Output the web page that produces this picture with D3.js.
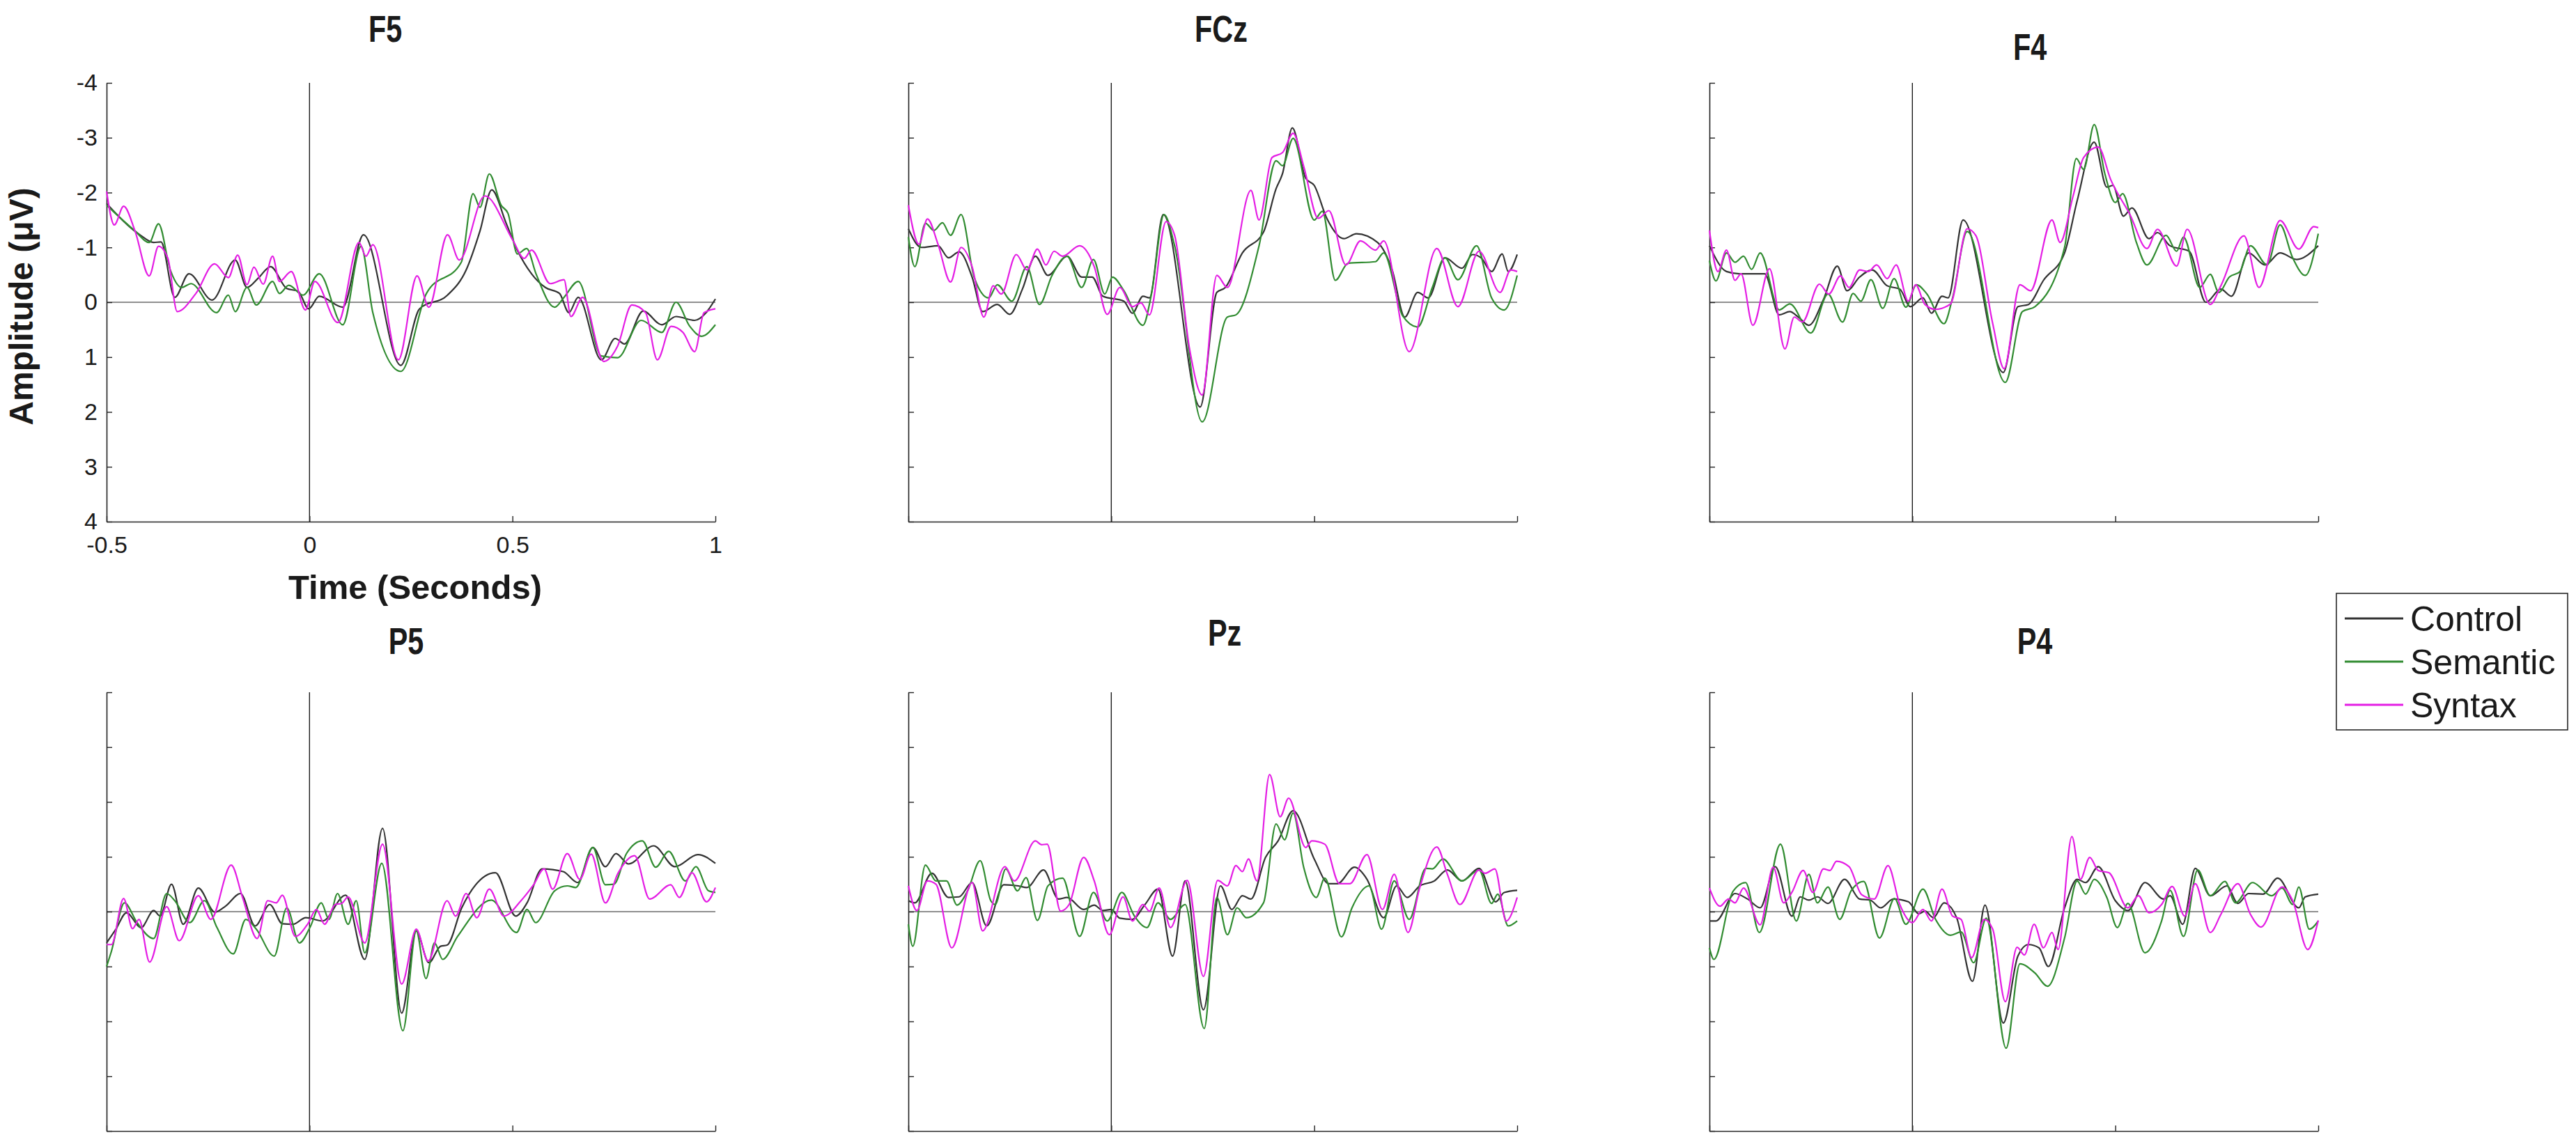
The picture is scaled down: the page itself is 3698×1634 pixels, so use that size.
<!DOCTYPE html>
<html>
<head>
<meta charset="utf-8">
<script src="https://cdn.jsdelivr.net/npm/d3@7"></script>
<style>
  html, body { margin: 0; padding: 0; background: #fff; }
  svg { display: block; }
  text { font-family: "Liberation Sans", Arial, Helvetica, sans-serif; fill: #1a1a1a; }
</style>
</head>
<body>
<script>
// ---------------- DATA ----------------
const channels = ["F5", "FCz", "F4", "P5", "Pz", "P4"];
const conditions = ["Control", "Semantic", "Syntax"];
const yTicks = [-4, -3, -2, -1, 0, 1, 2, 3, 4];
const xTicks = [-0.5, 0, 0.5, 1];
const yTickLabels = ["-4", "-3", "-2", "-1", "0", "1", "2", "3", "4"];
const xTickLabels = ["-0.5", "0", "0.5", "1"];

// [time (s), amplitude (µV)] read at turning points of each trace
const F5_control = [[-0.5,-1.8],[-0.418,-1.23],[-0.384,-1.09],[-0.366,-1.1],[-0.332,-0.09],[-0.297,-0.52],[-0.24,-0.04],[-0.183,-0.77],[-0.154,-0.27],[-0.125,-0.45],[-0.096,-0.65],[-0.056,-0.25],[-0.028,-0.2],[-0.002,0.12],[0.024,-0.11],[0.082,0.09],[0.133,-1.23],[0.225,1.15],[0.271,0.12],[0.34,-0.13],[0.386,-0.59],[0.42,-1.3],[0.449,-2.05],[0.484,-1.45],[0.512,-0.95],[0.547,-0.52],[0.581,-0.27],[0.616,-0.16],[0.639,0.19],[0.662,-0.09],[0.719,1.05],[0.753,0.66],[0.776,0.76],[0.822,0.16],[0.868,0.41],[0.903,0.26],[0.949,0.33],[0.977,0.19],[1.0,-0.06]];
const F5_semantic = [[-0.5,-1.77],[-0.43,-1.3],[-0.395,-1.09],[-0.372,-1.43],[-0.343,-0.59],[-0.315,-0.27],[-0.292,-0.34],[-0.229,0.19],[-0.2,-0.13],[-0.183,0.17],[-0.154,-0.27],[-0.131,0.05],[-0.091,-0.38],[-0.074,-0.16],[-0.051,-0.31],[-0.016,-0.13],[0.024,-0.52],[0.082,0.41],[0.127,-1.02],[0.156,0.19],[0.225,1.26],[0.288,-0.16],[0.374,-0.73],[0.403,-1.98],[0.42,-1.73],[0.443,-2.34],[0.472,-1.77],[0.489,-1.62],[0.512,-0.88],[0.535,-0.98],[0.558,-0.52],[0.604,0.09],[0.627,-0.09],[0.662,-0.38],[0.719,0.98],[0.759,1.01],[0.817,0.33],[0.868,0.55],[0.903,0.0],[0.937,0.44],[0.966,0.62],[1.0,0.41]];
const F5_syntax = [[-0.5,-2.02],[-0.481,-1.41],[-0.458,-1.75],[-0.43,-1.3],[-0.395,-0.48],[-0.372,-1.02],[-0.349,-0.8],[-0.326,0.17],[-0.28,-0.16],[-0.234,-0.7],[-0.2,-0.45],[-0.177,-0.86],[-0.154,-0.32],[-0.137,-0.64],[-0.114,-0.33],[-0.091,-0.84],[-0.074,-0.38],[-0.045,-0.56],[-0.01,0.14],[0.013,-0.38],[0.07,0.37],[0.122,-1.09],[0.139,-0.84],[0.156,-1.05],[0.219,1.05],[0.265,-0.48],[0.294,0.09],[0.34,-1.23],[0.369,-0.77],[0.432,-1.94],[0.501,-1.13],[0.529,-0.8],[0.547,-0.95],[0.593,-0.34],[0.627,-0.41],[0.644,0.26],[0.673,-0.09],[0.725,1.08],[0.759,0.8],[0.794,0.05],[0.828,0.19],[0.857,1.05],[0.891,0.44],[0.92,0.55],[0.949,0.9],[0.972,0.19],[1.0,0.12]];

const FCz_control = [[-0.5,-1.34],[-0.468,-1.0],[-0.427,-1.03],[-0.401,-0.81],[-0.375,-0.92],[-0.343,-0.46],[-0.317,0.17],[-0.281,0.04],[-0.25,0.22],[-0.219,-0.24],[-0.187,-0.84],[-0.156,-0.49],[-0.109,-0.84],[-0.073,-0.46],[-0.047,-0.46],[-0.021,-0.11],[0.031,-0.02],[0.052,0.2],[0.078,-0.11],[0.094,-0.08],[0.128,-1.6],[0.219,1.91],[0.26,-0.18],[0.281,-0.27],[0.323,-0.9],[0.375,-1.28],[0.406,-2.07],[0.422,-2.35],[0.446,-3.18],[0.479,-2.26],[0.5,-2.13],[0.531,-1.53],[0.573,-1.16],[0.604,-1.25],[0.656,-1.09],[0.692,-0.59],[0.723,0.27],[0.755,-0.18],[0.781,-0.08],[0.822,-0.81],[0.864,-0.62],[0.89,-0.87],[0.911,-0.81],[0.937,-0.56],[0.963,-0.88],[0.978,-0.56],[1.0,-0.87]];
const FCz_semantic = [[-0.5,-1.19],[-0.484,-0.65],[-0.458,-1.44],[-0.437,-1.31],[-0.416,-1.45],[-0.396,-1.22],[-0.37,-1.6],[-0.338,-0.46],[-0.302,-0.08],[-0.281,-0.32],[-0.245,-0.02],[-0.208,-0.65],[-0.177,0.04],[-0.146,-0.49],[-0.109,-0.84],[-0.073,-0.27],[-0.044,-0.78],[-0.016,-0.15],[0.003,-0.46],[0.031,-0.21],[0.078,0.42],[0.099,-0.15],[0.13,-1.6],[0.156,-1.03],[0.224,2.18],[0.286,0.27],[0.307,0.23],[0.364,-1.03],[0.406,-2.58],[0.422,-2.49],[0.448,-2.99],[0.5,-1.5],[0.52,-1.66],[0.552,-0.4],[0.583,-0.71],[0.651,-0.74],[0.671,-0.9],[0.718,0.25],[0.755,0.45],[0.791,-0.27],[0.822,-0.81],[0.854,-0.41],[0.9,-1.03],[0.937,-0.08],[0.968,0.14],[1.0,-0.49]];
const FCz_syntax = [[-0.5,-1.77],[-0.474,-1.06],[-0.453,-1.52],[-0.427,-1.06],[-0.396,-0.37],[-0.37,-1.0],[-0.343,-0.65],[-0.314,0.27],[-0.291,-0.3],[-0.271,-0.15],[-0.234,-0.87],[-0.208,-0.59],[-0.182,-0.97],[-0.161,-0.68],[-0.141,-0.93],[-0.12,-0.84],[-0.078,-1.03],[-0.042,-0.65],[-0.01,0.22],[0.021,-0.27],[0.052,0.08],[0.073,0.01],[0.094,0.23],[0.135,-1.47],[0.156,-1.22],[0.193,0.86],[0.224,1.69],[0.26,-0.49],[0.286,-0.27],[0.344,-2.04],[0.364,-1.5],[0.396,-2.64],[0.422,-2.73],[0.448,-3.08],[0.474,-2.48],[0.51,-1.53],[0.536,-1.67],[0.578,-0.68],[0.614,-1.12],[0.651,-0.95],[0.671,-1.12],[0.734,0.9],[0.802,-0.98],[0.854,0.08],[0.906,-0.93],[0.958,-0.18],[0.984,-0.59],[1.0,-0.56]];

const F4_control = [[-0.5,-1.03],[-0.458,-0.56],[-0.427,-0.52],[-0.364,-0.52],[-0.328,0.23],[-0.302,0.17],[-0.281,0.27],[-0.255,0.42],[-0.219,-0.05],[-0.185,-0.66],[-0.161,-0.21],[-0.13,-0.46],[-0.099,-0.59],[-0.062,-0.3],[-0.031,-0.24],[-0.005,0.08],[0.026,-0.08],[0.047,0.2],[0.073,-0.11],[0.088,-0.08],[0.125,-1.5],[0.224,1.28],[0.26,0.08],[0.286,0.04],[0.323,-0.4],[0.375,-0.9],[0.406,-1.85],[0.448,-2.92],[0.479,-2.1],[0.494,-2.13],[0.52,-1.57],[0.541,-1.72],[0.583,-1.16],[0.604,-1.27],[0.635,-1.03],[0.682,-0.93],[0.723,0.0],[0.76,-0.24],[0.786,-0.11],[0.828,-0.9],[0.869,-0.68],[0.906,-0.9],[0.947,-0.78],[1.0,-1.03]];
const F4_semantic = [[-0.5,-0.76],[-0.484,-0.39],[-0.458,-0.9],[-0.437,-0.73],[-0.416,-0.84],[-0.396,-0.6],[-0.375,-0.9],[-0.328,0.14],[-0.302,0.03],[-0.25,0.56],[-0.208,-0.15],[-0.172,0.36],[-0.146,-0.16],[-0.127,-0.02],[-0.102,-0.41],[-0.073,0.11],[-0.045,-0.43],[-0.016,0.09],[0.01,-0.32],[0.036,-0.15],[0.078,0.39],[0.099,-0.08],[0.135,-1.29],[0.229,1.46],[0.271,0.17],[0.302,0.08],[0.375,-1.0],[0.404,-2.62],[0.422,-2.42],[0.448,-3.24],[0.474,-2.35],[0.5,-1.82],[0.518,-1.98],[0.552,-1.09],[0.578,-0.68],[0.625,-1.22],[0.651,-0.93],[0.668,-1.19],[0.708,-0.27],[0.734,-0.51],[0.755,-0.18],[0.781,-0.46],[0.807,-0.56],[0.833,-1.03],[0.874,-0.68],[0.906,-1.41],[0.937,-0.81],[0.968,-0.49],[1.0,-1.25]];
const F4_syntax = [[-0.5,-1.31],[-0.479,-0.56],[-0.458,-0.95],[-0.437,-0.4],[-0.422,-0.52],[-0.393,0.42],[-0.352,-0.61],[-0.314,0.85],[-0.291,0.27],[-0.271,0.36],[-0.229,-0.33],[-0.206,-0.15],[-0.177,-0.48],[-0.156,-0.27],[-0.13,-0.59],[-0.109,-0.56],[-0.088,-0.68],[-0.062,-0.43],[-0.04,-0.68],[-0.01,-0.02],[0.008,-0.32],[0.031,0.04],[0.057,0.13],[0.094,0.03],[0.135,-1.34],[0.156,-1.22],[0.198,0.39],[0.226,1.21],[0.265,-0.32],[0.291,-0.21],[0.344,-1.5],[0.364,-1.09],[0.396,-1.94],[0.422,-2.64],[0.458,-2.83],[0.489,-2.23],[0.536,-1.6],[0.578,-0.98],[0.604,-1.33],[0.651,-0.66],[0.677,-1.33],[0.734,0.04],[0.76,-0.3],[0.817,-1.21],[0.854,-0.27],[0.906,-1.49],[0.952,-0.97],[0.989,-1.38],[1.0,-1.36]];

const P5_control = [[-0.5,0.57],[-0.477,0.32],[-0.451,0.02],[-0.415,0.29],[-0.384,-0.02],[-0.368,0.08],[-0.34,-0.5],[-0.311,0.23],[-0.274,-0.43],[-0.233,0.01],[-0.207,-0.1],[-0.17,-0.33],[-0.134,0.26],[-0.098,-0.13],[-0.067,0.22],[-0.041,0.23],[-0.009,0.11],[0.032,0.17],[0.089,-0.3],[0.136,0.87],[0.18,-1.52],[0.227,1.85],[0.263,0.35],[0.294,0.93],[0.323,0.63],[0.339,0.61],[0.375,-0.07],[0.458,-0.71],[0.508,0.08],[0.536,-0.16],[0.573,-0.78],[0.625,-0.73],[0.661,-0.53],[0.698,-1.17],[0.729,-0.82],[0.755,-1.06],[0.786,-0.87],[0.848,-1.2],[0.9,-0.82],[0.957,-1.04],[1.0,-0.88]];
const P5_semantic = [[-0.5,1.0],[-0.488,0.72],[-0.456,-0.16],[-0.425,0.2],[-0.384,0.49],[-0.352,-0.33],[-0.332,-0.2],[-0.295,0.2],[-0.259,-0.2],[-0.228,0.29],[-0.188,0.77],[-0.157,0.14],[-0.131,0.32],[-0.087,0.81],[-0.056,-0.07],[-0.025,0.57],[0.001,0.29],[0.029,-0.16],[0.048,0.14],[0.069,-0.33],[0.095,0.23],[0.115,-0.2],[0.136,0.75],[0.178,-0.88],[0.23,2.17],[0.263,0.35],[0.287,1.22],[0.308,0.57],[0.328,0.87],[0.365,0.45],[0.448,-0.21],[0.51,0.38],[0.536,-0.04],[0.557,0.2],[0.604,-0.38],[0.635,-0.47],[0.656,-0.44],[0.698,-1.17],[0.729,-0.49],[0.75,-0.5],[0.781,-1.06],[0.82,-1.29],[0.853,-0.81],[0.885,-1.1],[0.926,-0.56],[0.952,-0.82],[0.983,-0.38],[1.0,-0.35]];
const P5_syntax = [[-0.5,0.6],[-0.488,0.6],[-0.458,-0.24],[-0.436,0.31],[-0.42,0.14],[-0.394,0.92],[-0.352,-0.09],[-0.321,0.53],[-0.274,-0.29],[-0.243,0.14],[-0.193,-0.85],[-0.165,-0.26],[-0.129,0.49],[-0.103,-0.2],[-0.082,-0.16],[-0.067,-0.3],[-0.035,0.45],[-0.004,0.22],[0.017,-0.04],[0.037,0.23],[0.063,-0.13],[0.079,-0.15],[0.095,-0.27],[0.136,0.57],[0.18,-1.23],[0.227,1.32],[0.263,0.32],[0.292,0.9],[0.339,-0.2],[0.36,0.08],[0.386,-0.33],[0.412,0.11],[0.443,-0.41],[0.479,0.08],[0.521,-0.2],[0.552,-0.49],[0.578,-0.78],[0.599,-0.41],[0.635,-1.06],[0.666,-0.59],[0.694,-1.05],[0.729,-0.16],[0.76,-0.7],[0.801,-1.02],[0.838,-0.23],[0.89,-0.49],[0.911,-0.26],[0.942,-0.71],[0.978,-0.18],[1.0,-0.44]];

const Pz_control = [[-0.5,-0.2],[-0.484,-0.16],[-0.442,-0.7],[-0.401,-0.26],[-0.375,-0.27],[-0.343,-0.53],[-0.307,0.26],[-0.265,-0.49],[-0.229,-0.47],[-0.208,-0.44],[-0.167,-0.76],[-0.13,-0.23],[-0.109,-0.26],[-0.068,-0.04],[-0.042,-0.12],[-0.021,-0.02],[0.0,-0.04],[0.021,0.12],[0.052,0.14],[0.083,-0.13],[0.115,-0.41],[0.151,0.81],[0.182,-0.56],[0.227,1.79],[0.269,-0.47],[0.297,-0.04],[0.323,-0.29],[0.344,-0.23],[0.38,-0.99],[0.411,-1.29],[0.448,-1.84],[0.5,-0.96],[0.536,-0.51],[0.557,-0.51],[0.599,-0.81],[0.63,-0.59],[0.671,0.11],[0.703,-0.47],[0.729,-0.26],[0.76,-0.47],[0.796,-0.56],[0.828,-0.76],[0.864,-0.56],[0.906,-0.79],[0.947,-0.18],[0.968,-0.35],[1.0,-0.39]];
const Pz_semantic = [[-0.5,0.23],[-0.489,0.63],[-0.458,-0.85],[-0.432,-0.56],[-0.406,-0.56],[-0.38,-0.12],[-0.354,-0.38],[-0.323,-0.93],[-0.297,-0.2],[-0.286,-0.13],[-0.26,-0.78],[-0.231,-0.38],[-0.21,-0.62],[-0.182,0.16],[-0.156,-0.47],[-0.12,-0.61],[-0.078,0.45],[-0.044,-0.35],[-0.01,0.17],[0.026,-0.35],[0.057,0.08],[0.088,0.29],[0.115,-0.16],[0.146,0.14],[0.182,-0.13],[0.229,2.13],[0.26,-0.26],[0.286,0.42],[0.31,-0.07],[0.333,0.11],[0.375,-0.16],[0.406,-1.6],[0.427,-1.31],[0.448,-1.8],[0.474,-0.81],[0.505,-0.26],[0.526,-0.61],[0.567,0.46],[0.593,-0.07],[0.635,-0.47],[0.666,0.32],[0.697,-0.56],[0.734,0.14],[0.775,-0.79],[0.791,-0.78],[0.817,-0.96],[0.864,-0.56],[0.906,-0.76],[0.937,-0.15],[0.952,-0.32],[0.978,0.26],[1.0,0.17]];
const Pz_syntax = [[-0.5,-0.47],[-0.479,-0.02],[-0.453,-0.56],[-0.432,-0.5],[-0.393,0.66],[-0.343,-0.53],[-0.317,0.35],[-0.262,-0.82],[-0.239,-0.56],[-0.187,-1.29],[-0.172,-1.22],[-0.158,-1.23],[-0.125,-0.01],[-0.104,-0.13],[-0.068,-0.99],[-0.042,-0.56],[-0.005,0.42],[0.029,-0.27],[0.052,0.17],[0.078,-0.13],[0.094,-0.01],[0.118,-0.43],[0.146,0.29],[0.187,-0.57],[0.227,1.18],[0.262,-0.57],[0.286,-0.47],[0.307,-0.84],[0.323,-0.73],[0.338,-0.96],[0.359,-0.56],[0.39,-2.5],[0.416,-1.73],[0.437,-2.07],[0.479,-1.17],[0.494,-1.29],[0.526,-1.23],[0.562,-0.51],[0.588,-0.51],[0.63,-1.04],[0.668,-0.04],[0.697,-0.68],[0.731,0.38],[0.76,-0.44],[0.802,-1.18],[0.828,-0.68],[0.859,-0.13],[0.906,-0.76],[0.921,-0.7],[0.945,-0.78],[0.973,0.17],[1.0,-0.26]];

const P4_control = [[-0.5,0.17],[-0.484,0.17],[-0.437,-0.33],[-0.406,-0.23],[-0.375,-0.07],[-0.338,-0.82],[-0.297,0.08],[-0.276,-0.27],[-0.255,-0.21],[-0.234,-0.27],[-0.208,-0.15],[-0.167,-0.59],[-0.13,-0.23],[-0.104,-0.21],[-0.078,-0.07],[-0.047,-0.23],[-0.01,-0.18],[0.016,0.04],[0.031,-0.01],[0.052,0.11],[0.078,-0.16],[0.109,0.11],[0.148,1.27],[0.179,-0.12],[0.224,2.03],[0.26,0.81],[0.286,0.6],[0.312,0.66],[0.335,1.0],[0.375,-0.07],[0.406,-0.59],[0.427,-0.53],[0.458,-0.82],[0.5,-0.2],[0.531,-0.02],[0.573,-0.53],[0.619,-0.23],[0.635,-0.29],[0.666,0.23],[0.697,-0.79],[0.734,-0.29],[0.775,-0.47],[0.802,-0.15],[0.828,-0.33],[0.864,-0.32],[0.9,-0.61],[0.952,-0.07],[0.968,-0.27],[1.0,-0.32]];
const P4_semantic = [[-0.5,0.66],[-0.489,0.87],[-0.442,-0.37],[-0.411,-0.53],[-0.377,0.38],[-0.325,-1.23],[-0.286,0.17],[-0.255,-0.68],[-0.234,-0.16],[-0.208,-0.45],[-0.179,0.14],[-0.151,-0.38],[-0.12,-0.55],[-0.081,0.48],[-0.044,-0.24],[-0.016,0.23],[0.026,-0.41],[0.057,0.14],[0.094,0.43],[0.12,0.37],[0.151,0.93],[0.182,0.12],[0.231,2.49],[0.265,0.95],[0.302,1.12],[0.333,1.36],[0.375,0.48],[0.406,-0.56],[0.427,-0.32],[0.448,-0.59],[0.479,-0.26],[0.505,0.29],[0.531,-0.15],[0.573,0.75],[0.614,0.17],[0.635,-0.39],[0.668,0.45],[0.703,-0.76],[0.734,-0.29],[0.77,-0.55],[0.796,-0.16],[0.838,-0.53],[0.885,-0.29],[0.911,-0.43],[0.937,-0.13],[0.952,-0.45],[0.978,0.32],[1.0,0.17]];
const P4_syntax = [[-0.5,-0.43],[-0.474,-0.1],[-0.453,-0.23],[-0.437,-0.16],[-0.416,-0.43],[-0.375,0.24],[-0.343,-0.81],[-0.317,-0.16],[-0.297,-0.35],[-0.269,-0.75],[-0.245,-0.35],[-0.219,-0.78],[-0.203,-0.75],[-0.187,-0.92],[-0.156,-0.82],[-0.125,-0.31],[-0.094,-0.23],[-0.06,-0.84],[-0.031,-0.13],[0.0,0.2],[0.026,-0.04],[0.047,0.17],[0.073,-0.41],[0.099,0.08],[0.12,0.14],[0.146,0.84],[0.177,0.14],[0.198,0.32],[0.229,1.64],[0.258,0.65],[0.276,0.79],[0.3,0.23],[0.323,0.66],[0.344,0.38],[0.359,0.69],[0.393,-1.37],[0.414,-0.59],[0.437,-0.99],[0.458,-0.75],[0.484,-0.71],[0.531,-0.07],[0.557,-0.29],[0.583,0.02],[0.614,-0.13],[0.64,-0.46],[0.671,0.08],[0.697,-0.51],[0.734,0.38],[0.76,0.05],[0.802,-0.51],[0.833,0.05],[0.859,0.28],[0.911,-0.45],[0.937,-0.2],[0.974,0.69],[1.0,0.16]];

// ---------------- LAYOUT / STYLE ----------------
const W = 3698, H = 1634;
const colors = { Control: "#333333", Semantic: "#318c31", Syntax: "#e41ee4" };
const panelW = 874, panelH = 630;
const colX = [153, 1304, 2454];
const rowY = [119, 994];
const titlePos = {
  F5: [553, 60], FCz: [1753, 60], F4: [2914, 86],
  P5: [583, 939], Pz: [1758, 927], P4: [2921, 939]
};
const seriesByChannel = {
  F5: [F5_control, F5_semantic, F5_syntax],
  FCz: [FCz_control, FCz_semantic, FCz_syntax],
  F4: [F4_control, F4_semantic, F4_syntax],
  P5: [P5_control, P5_semantic, P5_syntax],
  Pz: [Pz_control, Pz_semantic, Pz_syntax],
  P4: [P4_control, P4_semantic, P4_syntax]
};

const svg = d3.select("body").append("svg").attr("width", W).attr("height", H);
svg.append("rect").attr("width", W).attr("height", H).attr("fill", "#fff");

const x = d3.scaleLinear().domain([-0.5, 1]).range([0, panelW]);
const y = d3.scaleLinear().domain([-4, 4]).range([0, panelH]);
const line = d3.line().x(d => x(d[0])).y(d => y(d[1])).curve(d3.curveMonotoneX);

channels.forEach((ch, i) => {
  const col = i % 3, row = Math.floor(i / 3);
  const g = svg.append("g").attr("transform", `translate(${colX[col]},${rowY[row]})`);
  const labelled = (i === 0);

  // zero reference lines
  g.append("line").attr("x1", 0).attr("x2", panelW).attr("y1", y(0)).attr("y2", y(0))
    .attr("stroke", "#6a6a6a").attr("stroke-width", 1.3);
  g.append("line").attr("x1", x(0)).attr("x2", x(0)).attr("y1", 0).attr("y2", panelH)
    .attr("stroke", "#1a1a1a").attr("stroke-width", 1.4);

  // axes
  const yAxis = d3.axisLeft(y).tickValues(yTicks).tickSizeInner(-8).tickSizeOuter(0).tickPadding(13)
    .tickFormat((d, j) => labelled ? yTickLabels[j] : "");
  const xAxis = d3.axisBottom(x).tickValues(xTicks).tickSizeInner(-8).tickSizeOuter(0).tickPadding(21)
    .tickFormat((d, j) => labelled ? xTickLabels[j] : "");
  const ya = g.append("g").call(yAxis);
  const xa = g.append("g").attr("transform", `translate(0,${panelH})`).call(xAxis);
  [ya, xa].forEach(a => {
    a.select(".domain").attr("stroke", "#222").attr("stroke-width", 1.6);
    a.selectAll(".tick line").attr("stroke", "#222").attr("stroke-width", 1.4);
    a.selectAll(".tick text").style("font-family", '"Liberation Sans", Arial, sans-serif')
      .style("font-size", "34px").attr("fill", "#1a1a1a");
  });

  // traces
  seriesByChannel[ch].forEach((data, k) => {
    g.append("path").datum(data).attr("d", line).attr("fill", "none")
      .attr("stroke", colors[conditions[k]]).attr("stroke-width", 2.2)
      .attr("stroke-linejoin", "round");
  });

  // title
  const [tx, ty] = titlePos[ch];
  svg.append("text").attr("transform", `translate(${tx},${ty}) scale(0.78,1)`)
    .attr("text-anchor", "middle").style("font-size", "53px").style("font-weight", "bold")
    .attr("fill", "#111").text(ch);
});

// axis titles
svg.append("text").attr("transform", "translate(47,440) rotate(-90)")
  .attr("text-anchor", "middle").style("font-size", "48px").style("font-weight", "bold")
  .attr("fill", "#222").text("Amplitude (μV)");
svg.append("text").attr("x", 596).attr("y", 860)
  .attr("text-anchor", "middle").style("font-size", "49px").style("font-weight", "bold")
  .attr("fill", "#222").text("Time (Seconds)");

// legend
const lg = svg.append("g");
lg.append("rect").attr("x", 3354).attr("y", 852).attr("width", 332).attr("height", 196)
  .attr("fill", "#fff").attr("stroke", "#262626").attr("stroke-width", 1.6);
const legY = [888, 950, 1012];
conditions.forEach((c, k) => {
  lg.append("line").attr("x1", 3366).attr("x2", 3450).attr("y1", legY[k]).attr("y2", legY[k])
    .attr("stroke", colors[c]).attr("stroke-width", 3);
  lg.append("text").attr("x", 3460).attr("y", legY[k] + 18)
    .style("font-size", "50px").attr("fill", "#000").text(c);
});
</script>
</body>
</html>
